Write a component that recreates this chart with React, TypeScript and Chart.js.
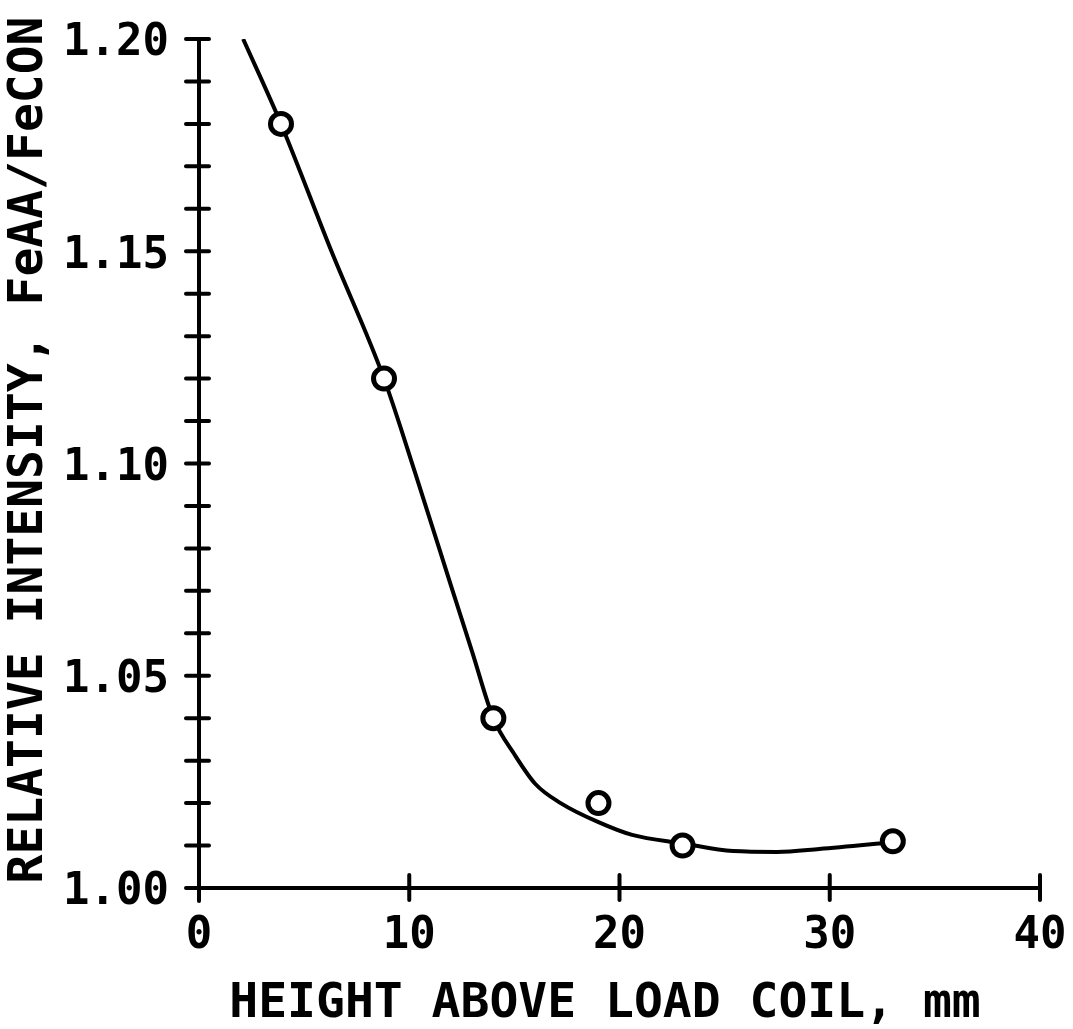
import React, { useEffect, useRef } from "react";
import { Chart, registerables } from "chart.js";

Chart.register(...registerables);

// Measured points (height above load coil, mm -> relative intensity)
const pointHeights = [3.9, 8.8, 14, 19, 23, 33];
const pointIntensity = [1.18, 1.12, 1.04, 1.02, 1.01, 1.011];

// Smooth fitted curve
const curveHeights = [2.1, 3.9, 6.3, 8.8, 10.3, 12.0, 13.0, 14.0, 15.0, 16.0, 17.2, 19.0, 20.6, 23.0, 25.4, 27.5, 29.5, 33.0];
const curveIntensity = [1.2, 1.18, 1.15, 1.12, 1.0975, 1.071, 1.0555, 1.04, 1.0315, 1.0245, 1.02, 1.0155, 1.0125, 1.0105, 1.0087, 1.0085, 1.0092, 1.0108];

const xTitle = "HEIGHT ABOVE LOAD COIL, mm";
const yTitle = "RELATIVE INTENSITY, FeAA/FeCON";
const xMin = 0, xMax = 40, xStep = 10;
const yMin = 1.0, yMax = 1.2, yStep = 0.01, yLabelStep = 0.05;

const W = 1073, H = 1029;
const FONT = "'DejaVu Sans Mono', 'Liberation Mono', monospace";

const crossTicks = {
  id: "crossTicks",
  afterDatasetsDraw(chart: any) {
    const ctx = chart.ctx;
    const xs = chart.scales.x;
    const ys = chart.scales.y;
    const area = chart.chartArea;
    ctx.save();
    ctx.strokeStyle = "#000";
    ctx.lineWidth = 4;
    ctx.lineCap = "round";
    ys.ticks.forEach((t: any) => {
      const py = ys.getPixelForValue(t.value);
      ctx.beginPath();
      ctx.moveTo(area.left - 13, py);
      ctx.lineTo(area.left + (t.value <= yMin + 1e-9 ? 0 : 10), py);
      ctx.stroke();
    });
    xs.ticks.forEach((t: any) => {
      if (t.value <= xMin) return;
      const px = xs.getPixelForValue(t.value);
      ctx.beginPath();
      ctx.moveTo(px, area.bottom - 13);
      ctx.lineTo(px, area.bottom + 12);
      ctx.stroke();
    });
    ctx.beginPath();
    ctx.moveTo(area.left, area.bottom);
    ctx.lineTo(area.left, area.bottom + 13);
    ctx.stroke();
    ctx.restore();
  },
  afterDraw(chart: any) {
    const ctx = chart.ctx;
    ctx.save();
    ctx.fillStyle = "#000";
    ctx.font = `bold 48px ${FONT}`;
    ctx.textAlign = "center";
    ctx.textBaseline = "middle";
    ctx.fillText(xTitle, 605, 1005);
    ctx.translate(30, 450);
    ctx.rotate(-Math.PI / 2);
    ctx.fillText(yTitle, 0, 0);
    ctx.restore();
  },
};

export default function App() {
  const ref = useRef<HTMLCanvasElement | null>(null);
  useEffect(() => {
    if (!ref.current) return;
    const chart = new Chart(ref.current, {
      type: "scatter",
      data: {
        datasets: [
          {
            label: "measured",
            data: pointHeights.map((x, i) => ({ x, y: pointIntensity[i] })),
            showLine: false,
            pointStyle: "circle",
            pointRadius: 10.5,
            pointBorderWidth: 5,
            pointBackgroundColor: "#fff",
            pointBorderColor: "#000",
            order: 0,
          },
          {
            label: "curve",
            type: "line",
            data: curveHeights.map((x, i) => ({ x, y: curveIntensity[i] })),
            showLine: true,
            borderColor: "#000",
            borderWidth: 4,
            pointRadius: 0,
            cubicInterpolationMode: "monotone",
            fill: false,
            order: 1,
          } as any,
        ],
      },
      options: {
        responsive: false,
        animation: false,
        events: [],
        layout: { autoPadding: false, padding: { top: 39, right: 33, left: 0, bottom: 0 } },
        plugins: { legend: { display: false }, tooltip: { enabled: false } },
        scales: {
          x: {
            type: "linear",
            min: xMin,
            max: xMax,
            grid: { display: false, drawTicks: true, tickLength: 18 },
            border: { display: true, color: "#000", width: 4 },
            ticks: {
              stepSize: xStep,
              padding: 4,
              color: "#000",
              font: { family: FONT, size: 44, weight: "bold" },
              callback: (v: any) => String(v),
            },
            afterFit: (s: any) => { s.height = H - 888; },
          },
          y: {
            type: "linear",
            min: yMin,
            max: yMax,
            grid: { display: false, drawTicks: true, tickLength: 26 },
            border: { display: true, color: "#000", width: 4 },
            ticks: {
              stepSize: yStep,
              autoSkip: false,
              padding: 4,
              labelOffset: 5,
              color: "#000",
              font: { family: FONT, size: 44, weight: "bold" },
              callback: (v: any) => {
                const r = Math.round(v * 100);
                return r % Math.round(yLabelStep * 100) === 0 ? (r / 100).toFixed(2) : "";
              },
            },
            afterFit: (s: any) => { s.width = 199; },
          },
        },
      },
      plugins: [crossTicks],
    });
    return () => chart.destroy();
  }, []);
  return (
    <div style={{ position: "absolute", left: 0, top: 0, width: W, height: H, background: "#fff" }}>
      <canvas ref={ref} width={W} height={H} style={{ width: W, height: H, display: "block" }} />
    </div>
  );
}
